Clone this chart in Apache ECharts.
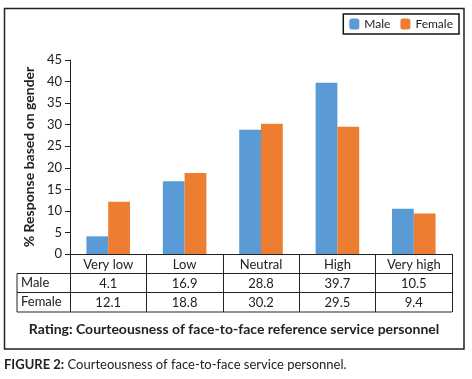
<!DOCTYPE html>
<html><head><meta charset="utf-8">
<script src="https://cdn.jsdelivr.net/npm/echarts@6/dist/echarts.min.js"></script>
<style>html,body{margin:0;padding:0;background:#fff}#c{width:472px;height:379px}</style>
</head><body><div id="c"></div>
<script>
var categories = ['Very low', 'Low', 'Neutral', 'High', 'Very high'];
var maleValues = [4.1, 16.9, 28.8, 39.7, 10.5];
var femaleValues = [12.1, 18.8, 30.2, 29.5, 9.4];
var seriesNames = ['Male', 'Female'];
var yTicks = [0, 45, 5];
var FONT = 'Lato';
var chart = echarts.init(document.getElementById('c'));
function fmt(v){ return v.toFixed(1); }
var lineStyle = {stroke:'#222', lineWidth:1};
chart.setOption({
  animation:false,
  textStyle:{fontFamily:FONT},
  legend:{
    data:seriesNames, right:13, top:14, orient:'horizontal',
    borderColor:'#111', borderWidth:1.5, padding:[4,6,4,6],
    itemWidth:10, itemHeight:11, itemGap:10,
    textStyle:{fontFamily:FONT, fontSize:12, color:'#222'}
  },
  grid:{left:70, right:20, top:60, bottom:125, containLabel:false},
  xAxis:[
    {type:'category', data:categories, position:'bottom',
     axisLine:{lineStyle:{color:'#222'}},
     axisTick:{show:true, length:58, lineStyle:{color:'#222'}},
     axisLabel:{fontFamily:FONT, fontSize:13, color:'#222', margin:4}},
    {type:'category', data:maleValues.map(fmt), position:'bottom', offset:19,
     axisLine:{show:false}, axisTick:{show:false},
     axisLabel:{fontFamily:FONT, fontSize:13, color:'#222', margin:4}},
    {type:'category', data:femaleValues.map(fmt), position:'bottom', offset:38,
     axisLine:{show:false}, axisTick:{show:false},
     axisLabel:{fontFamily:FONT, fontSize:13, color:'#222', margin:4}}
  ],
  yAxis:{type:'value', min:yTicks[0], max:yTicks[1], interval:yTicks[2],
    name:'% Response based on gender', nameLocation:'middle', nameGap:33, nameRotate:90,
    nameTextStyle:{fontFamily:FONT, fontSize:14, fontWeight:'bold', color:'#222'},
    axisLine:{show:true, lineStyle:{color:'#222'}},
    axisTick:{show:true, length:5, lineStyle:{color:'#222'}},
    splitLine:{show:false},
    axisLabel:{fontFamily:FONT, fontSize:13, color:'#222', margin:8}},
  series:[
    {name:seriesNames[0], type:'bar', data:maleValues, barGap:'0%', barCategoryGap:'43%',
     itemStyle:{color:'#5b9bd5'}},
    {name:seriesNames[1], type:'bar', data:femaleValues,
     itemStyle:{color:'#ed7d31'}}
  ],
  graphic:[
    {type:'rect', shape:{x:4.5, y:8.5, width:459.5, height:340.5}, style:{fill:null, stroke:'#222', lineWidth:1.5}, silent:true},
    {type:'line', shape:{x1:17, y1:273.5, x2:452, y2:273.5}, style:lineStyle},
    {type:'line', shape:{x1:17, y1:292.5, x2:452, y2:292.5}, style:lineStyle},
    {type:'line', shape:{x1:17, y1:312, x2:452, y2:312}, style:lineStyle},
    {type:'line', shape:{x1:17, y1:273.5, x2:17, y2:312}, style:lineStyle},
    {type:'text', left:21, top:276, style:{text:seriesNames[0], font:'13px Lato', fill:'#222'}},
    {type:'text', left:21, top:295, style:{text:seriesNames[1], font:'13px Lato', fill:'#222'}},
    {type:'text', x:234, y:329, style:{text:'Rating: Courteousness of face-to-face reference service personnel', font:'bold 14px Lato', fill:'#222', textAlign:'center', textVerticalAlign:'middle'}},
    {type:'text', x:4, y:365, style:{rich:{b:{fontFamily:FONT, fontWeight:'bold', fontSize:13, fill:'#222'}, n:{fontFamily:FONT, fontSize:13, fill:'#222'}}, text:'{b|FIGURE 2:}{n| Courteousness of face-to-face service personnel.}', textVerticalAlign:'middle'}}
  ]
});
</script></body></html>
